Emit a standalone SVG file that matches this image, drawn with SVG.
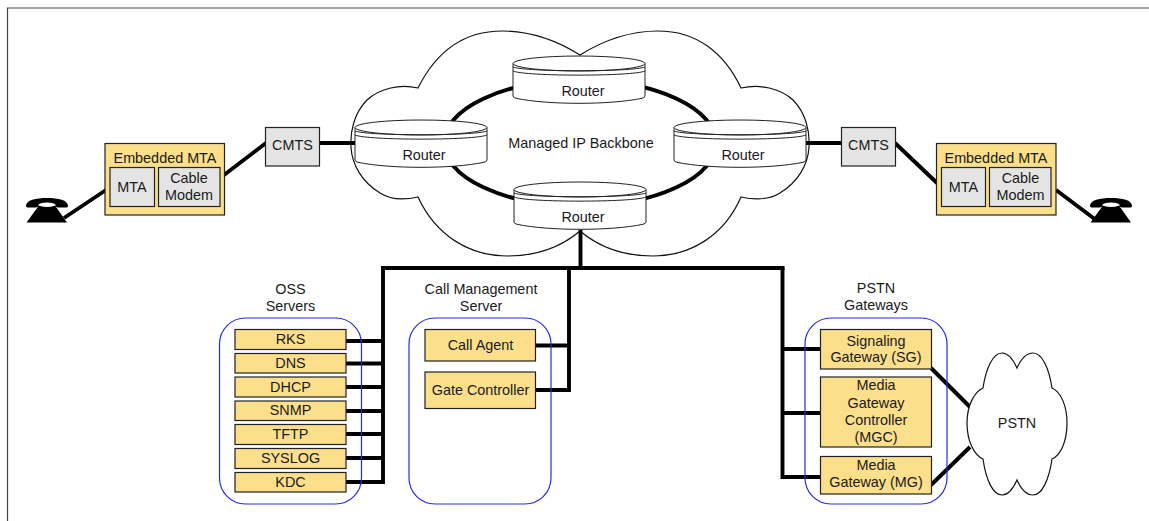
<svg xmlns="http://www.w3.org/2000/svg" xmlns:xlink="http://www.w3.org/1999/xlink" width="1149" height="521" viewBox="0 0 1149 521">
<style>
text{font-family:"Liberation Sans",Arial,sans-serif;font-size:14.4px;fill:#1a1a1a;text-anchor:middle}
.y{fill:#fbdf8b;stroke:#222;stroke-width:1.2}
.g{fill:#e4e4e4;stroke:#222;stroke-width:1.2}
.c{fill:#fff;stroke:#111;stroke-width:1.2}
.b{fill:none;stroke:#2a2ae0;stroke-width:1.2}
.w{fill:none;stroke:#000;stroke-width:3.900;stroke-linecap:butt;stroke-linejoin:miter}
.r{fill:#fff;stroke:#222;stroke-width:1}
.l{fill:none;stroke:#222;stroke-width:1}
</style>
<defs>
<g id="router">
<path class="r" d="M0,7.500V40Q0,41.500 3,42.300C35,49 97,49 129,42.300Q132,41.500 132,40V7.500Z"/>
<ellipse class="r" cx="66" cy="7.500" rx="66" ry="7.500"/>
<path class="l" d="M0,11C12,16 120,16 132,11M0,15C12,20.500 120,20.500 132,15"/>
</g>
<g id="phone">
<path fill="#000" d="M0,8.500C0,2.500 10,0.500 21,0.500C32,0.500 42,2.500 42,8.500Q42,10 39,10H32Q29,9.500 29,6.500H13Q13,9.500 10,10H3Q0,10 0,8.500Z"/>
<path fill="#000" d="M13,8H29L41,25H0.500Z"/>
<ellipse fill="#fff" cx="21" cy="7.300" rx="8.500" ry="2.200"/>
</g>
</defs>
<path id="frame" d="M7.500,521V8H1149" fill="none" stroke="#444" stroke-width="1.200"/>
<g id="backbone-cloud">
<path class="c" d="M580,55C556,40 530,31 502,31C464,31 436,52 418,88C400,84 380,88 367,100C354,113 350,132 351,147C352,165 362,182 380,193C391,200 405,200 418,197C436,236 470,256 507,256C535,256 560,248 580,231C600,248 625,256 653,256C690,256 724,236 741,197C755,200 769,200 780,193C798,182 808,165 809,147C810,132 806,113 793,100C780,88 760,84 741,88C724,52 696,31 658,31C630,31 604,40 580,55Z"/>
<text x="581" y="148">Managed IP Backbone</text>
</g>
<g id="connectors">
<ellipse class="w" cx="580" cy="143" rx="136" ry="63"/>
<path class="w" d="M64,218L106,190M224,175L266,143M319,143H357M805,143H842M895,143L937,183M1056,190L1096,220"/>
<path class="w" d="M580.500,230V268M381,268H784.500M383,266V482H346M346,341H383M346,363.500H383M346,387H383M346,411H383M346,434H383M346,458H383"/>
<path class="w" d="M569,268V392M535,390H569M535,345.500H569"/>
<path class="w" d="M782.500,268V477H822M782.500,349H822M782.500,413H823M931,368L970,407M931,485L970,447"/>
</g>
<g id="router-top"><use xlink:href="#router" href="#router" x="513" y="56"/><text x="583" y="96">Router</text></g>
<g id="router-left"><use xlink:href="#router" href="#router" x="355" y="120"/><text x="424" y="160">Router</text></g>
<g id="router-right"><use xlink:href="#router" href="#router" x="674" y="120"/><text x="743" y="160">Router</text></g>
<g id="router-bottom"><use xlink:href="#router" href="#router" x="514" y="182"/><text x="583" y="222">Router</text></g>
<g id="phone-left"><use xlink:href="#phone" href="#phone" x="26" y="197.500"/></g>
<g id="phone-right"><use xlink:href="#phone" href="#phone" x="1090" y="197.500"/></g>
<g id="embedded-left">
<rect class="y" x="105" y="143.500" width="119.500" height="71.500"/>
<text x="165" y="163">Embedded MTA</text>
<rect class="g" x="110" y="167.500" width="44.500" height="39"/><text x="132" y="192">MTA</text>
<rect class="g" x="158.500" y="167.500" width="61.500" height="39"/><text x="189" y="183">Cable</text><text x="189" y="200">Modem</text>
</g>
<g id="cmts-left"><rect class="g" x="265.500" y="127.500" width="54" height="38.500"/><text x="292.500" y="150">CMTS</text></g>
<g id="cmts-right"><rect class="g" x="841.500" y="127.500" width="54" height="38.500"/><text x="868.500" y="150">CMTS</text></g>
<g id="embedded-right">
<rect class="y" x="936.500" y="143.500" width="119.500" height="71.500"/>
<text x="996" y="163">Embedded MTA</text>
<rect class="g" x="941.500" y="167.500" width="44" height="39"/><text x="963.500" y="192">MTA</text>
<rect class="g" x="989.500" y="167.500" width="61.500" height="39"/><text x="1020.500" y="183">Cable</text><text x="1020.500" y="200">Modem</text>
</g>
<g id="oss-servers">
<text x="290.500" y="294">OSS</text><text x="290.500" y="311">Servers</text>
<rect class="b" x="219.500" y="318" width="142" height="186" rx="26"/>
<g id="rks"><rect class="y" x="235" y="329.500" width="111" height="20"/><text x="290.500" y="344">RKS</text></g>
<g id="dns"><rect class="y" x="235" y="353.500" width="111" height="19.500"/><text x="290.500" y="368">DNS</text></g>
<g id="dhcp"><rect class="y" x="235" y="377" width="111" height="20"/><text x="290.500" y="391.500">DHCP</text></g>
<g id="snmp"><rect class="y" x="235" y="401" width="111" height="19.500"/><text x="290.500" y="415">SNMP</text></g>
<g id="tftp"><rect class="y" x="235" y="424.500" width="111" height="20"/><text x="290.500" y="439">TFTP</text></g>
<g id="syslog"><rect class="y" x="235" y="448.500" width="111" height="20"/><text x="290.500" y="463">SYSLOG</text></g>
<g id="kdc"><rect class="y" x="235" y="472.500" width="111" height="19.500"/><text x="290.500" y="487">KDC</text></g>
</g>
<g id="call-management">
<text x="481" y="294">Call Management</text><text x="481" y="311">Server</text>
<rect class="b" x="409" y="318" width="142" height="186" rx="26"/>
<g id="call-agent"><rect class="y" x="425" y="329.500" width="110.500" height="31.500"/><text x="480.500" y="349.500">Call Agent</text></g>
<g id="gate-controller"><rect class="y" x="425" y="372" width="110.500" height="36.500"/><text x="480.500" y="395">Gate Controller</text></g>
</g>
<g id="pstn-gateways">
<text x="876" y="293">PSTN</text><text x="876" y="310">Gateways</text>
<rect class="b" x="805" y="318" width="142" height="186" rx="26"/>
<g id="sg"><rect class="y" x="820.500" y="329.500" width="111" height="39.500"/><text x="876" y="346">Signaling</text><text x="876" y="362">Gateway (SG)</text></g>
<g id="mgc"><rect class="y" x="820.500" y="377" width="111" height="70"/><text x="876" y="390">Media</text><text x="876" y="408">Gateway</text><text x="876" y="425">Controller</text><text x="876" y="442">(MGC)</text></g>
<g id="mg"><rect class="y" x="820.500" y="456.500" width="111" height="37.500"/><text x="876" y="470">Media</text><text x="876" y="487">Gateway (MG)</text></g>
</g>
<g id="pstn">
<path class="c" d="M1017,368C1013,359 1008,353 1002,353C993,353 986,368 983,388C974,392 967,406 967,423C967,441 974,455 983,459C986,480 993,495 1002,495C1008,495 1013,489 1017,480C1021,489 1026,495 1033,495C1042,495 1049,480 1052,459C1061,455 1067,441 1067,423C1067,406 1061,392 1052,388C1049,368 1042,353 1033,353C1026,353 1021,359 1017,368Z"/>
<text x="1017" y="428">PSTN</text>
</g>
</svg>
